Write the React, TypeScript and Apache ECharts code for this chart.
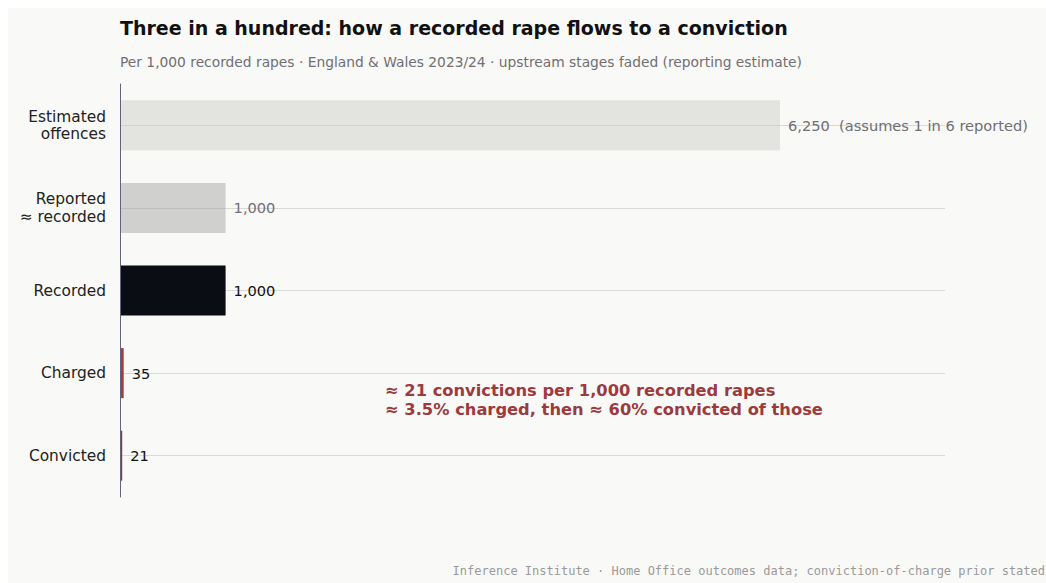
import React, { useEffect, useRef } from "react";
import * as echarts from "echarts";

const stages = ["Estimated\noffences", "Reported\n≈ recorded", "Recorded", "Charged", "Convicted"];
const perThousand = [6250, 1000, 1000, 35, 21];
const notes = ["  (assumes 1 in 6 reported)", "", "", "", ""];
const faded = [true, true, false, false, false];

const TITLE = "Three in a hundred: how a recorded rape flows to a conviction";
const SUBTITLE = "Per 1,000 recorded rapes · England & Wales 2023/24 · upstream stages faded (reporting estimate)";
const ANNOTATION = "≈ 21 convictions per 1,000 recorded rapes\n≈ 3.5% charged, then ≈ 60% convicted of those";
const FOOTER = "Inference Institute · Home Office outcomes data; conviction-of-charge prior stated";

const barColors = [
  "rgba(200,200,194,0.45)",
  "rgba(160,160,157,0.46)",
  "#0b0d14",
  "#a83b40",
  "#9a3438",
];

const FONT = "DejaVu Sans";

export default function App() {
  const ref = useRef<HTMLDivElement>(null);
  useEffect(() => {
    if (!ref.current) return;
    const chart = echarts.init(ref.current, undefined, { renderer: "svg" });
    const fmt = (v: number) => v.toLocaleString("en-US");
    chart.setOption({
      animation: false,
      backgroundColor: "#f9f9f7",
      textStyle: { fontFamily: FONT },
      title: [
        {
          text: TITLE,
          left: 112,
          top: 10,
          padding: 0,
          textStyle: { fontSize: 19, fontWeight: "bold", color: "#111111", fontFamily: FONT },
        },
        {
          text: SUBTITLE,
          left: 112,
          top: 47,
          padding: 0,
          textStyle: { fontSize: 13.8, fontWeight: "normal", color: "#6f6f74", fontFamily: FONT },
        },
      ],
      grid: { left: 112, top: 76, width: 825, height: 413, containLabel: false },
      xAxis: {
        type: "value",
        min: 0,
        max: 7812.5,
        show: false,
        splitLine: { show: false },
      },
      yAxis: {
        type: "category",
        data: stages,
        inverse: true,
        z: 3,
        axisLine: { show: true, lineStyle: { color: "#62657a", width: 1 } },
        axisTick: { show: false },
        splitLine: { show: false },
        axisLabel: {
          fontSize: 15.4,
          color: "#222222",
          margin: 14,
          lineHeight: 17.5,
          padding: [5, 0, 0, 0],
          align: "right",
          fontFamily: FONT,
        },
      },
      graphic: [
        {
          type: "text",
          left: 377,
          top: 373,
          z: 10,
          style: {
            text: ANNOTATION,
            font: `bold 16.3px "${FONT}"`,
            fill: "#9c3a3e",
            lineHeight: 19,
          },
        },
        {
          type: "text",
          right: 1,
          top: 557,
          style: {
            text: FOOTER,
            font: `12px "DejaVu Sans Mono"`,
            fill: "#9a9a9a",
          },
        },
      ],
      series: [
        {
          type: "line",
          data: [],
          z: 1,
          silent: true,
          markLine: {
            silent: true,
            z: 1,
            symbol: "none",
            label: { show: false },
            lineStyle: { color: "#d9d9d7", width: 1, type: "solid" },
            data: stages.map((s) => ({ yAxis: s })),
          },
        },
        {
          type: "bar",
          z: 2,
          barWidth: 50,
          data: perThousand.map((v, i) => ({
            value: v,
            itemStyle: { color: barColors[i] },
            label: {
              show: true,
              position: "right",
              distance: 8,
              fontSize: 14.6,
              fontFamily: FONT,
              color: faded[i] ? "#6f6f74" : "#111111",
              formatter: () => fmt(v) + notes[i],
            },
          })),
        },
      ],
    });
    return () => chart.dispose();
  }, []);
  return (
    <div
      ref={ref}
      style={{ position: "absolute", left: 8, top: 8, width: 1038, height: 575 }}
    />
  );
}
